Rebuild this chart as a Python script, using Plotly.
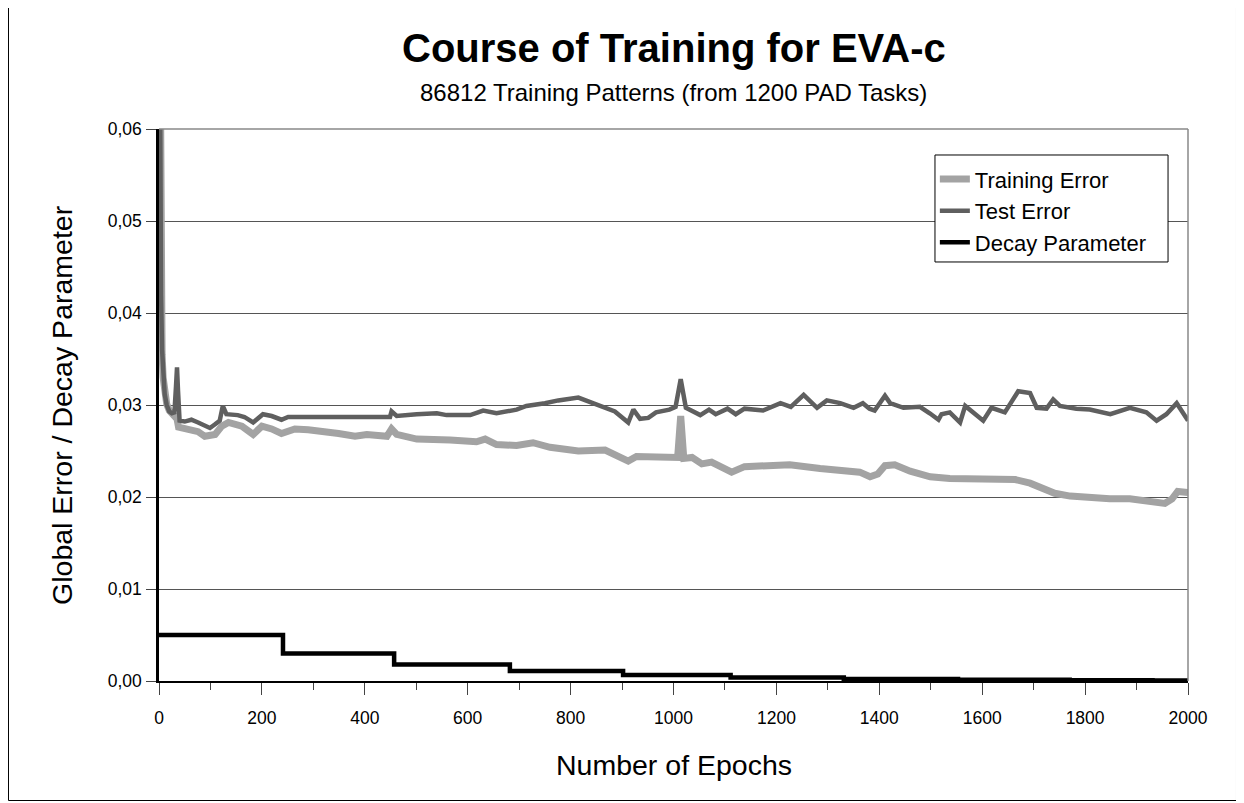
import plotly.graph_objects as go

# ---------------- data ----------------
train_epochs = [0, 2, 4, 6, 8, 11, 15, 20, 25, 30, 35, 38, 57, 76, 89, 109, 122, 135, 161, 183,
                200, 219, 238, 264, 290, 316, 349, 381, 404, 443, 452, 462, 501, 566, 617, 634,
                656, 695, 727, 760, 782, 815, 867, 893, 912, 928, 966, 997, 1008, 1014, 1020,
                1036, 1055, 1074, 1094, 1113, 1138, 1168, 1226, 1285, 1324, 1362, 1382, 1397,
                1411, 1430, 1460, 1499, 1537, 1586, 1635, 1664, 1693, 1712, 1741, 1771, 1810,
                1848, 1887, 1926, 1955, 1969, 1980, 2000]
train_error = [0.090, 0.056, 0.041, 0.0355, 0.0330, 0.0312, 0.0301, 0.0294, 0.0290, 0.0288,
               0.0285, 0.0276, 0.0273, 0.0271, 0.0266, 0.0268, 0.0277, 0.0281, 0.0277, 0.0268,
               0.0277, 0.0274, 0.0269, 0.0274, 0.0273, 0.0272, 0.0269, 0.0266, 0.0268, 0.0266,
               0.0274, 0.0268, 0.0263, 0.0262, 0.0260, 0.0263, 0.0257, 0.0256, 0.0259, 0.0254,
               0.0253, 0.0250, 0.0251, 0.0245, 0.0239, 0.0244, 0.0243, 0.0242, 0.0243, 0.0288,
               0.0242, 0.0243, 0.0236, 0.0238, 0.0233, 0.0227, 0.0233, 0.0234, 0.0235, 0.0231,
               0.0229, 0.0227, 0.0222, 0.0225, 0.0234, 0.0235, 0.0228, 0.0222, 0.0220, 0.0219,
               0.0218, 0.0219, 0.0215, 0.0210, 0.0204, 0.0201, 0.0199, 0.0198, 0.0198, 0.0196,
               0.0193, 0.0198, 0.0206, 0.0205]

test_epochs = [0, 2, 4, 6, 8, 11, 15, 20, 25, 30, 33, 35, 37, 40, 50, 63, 76, 89, 99, 109, 118,
               124, 131, 153, 166, 183, 193, 202, 219, 238, 251, 283, 316, 349, 381, 449, 452,
               462, 501, 540, 559, 605, 630, 656, 695, 714, 750, 776, 815, 834, 867, 886, 912,
               922, 935, 951, 966, 992, 1004, 1014, 1024, 1052, 1069, 1082, 1105, 1121, 1138,
               1174, 1208, 1228, 1253, 1279, 1298, 1324, 1350, 1368, 1381, 1391, 1411, 1421,
               1447, 1479, 1498, 1515, 1521, 1537, 1557, 1567, 1602, 1618, 1644, 1670, 1693,
               1706, 1725, 1738, 1751, 1783, 1809, 1849, 1887, 1919, 1939, 1958, 1978, 2000]
test_error = [0.090, 0.058, 0.042, 0.0360, 0.0332, 0.0312, 0.0300, 0.0293, 0.0291, 0.0292,
              0.0320, 0.0341, 0.0315, 0.0283, 0.0282, 0.0284, 0.0281, 0.0278, 0.0275, 0.0279,
              0.0283, 0.0299, 0.0290, 0.0289, 0.0287, 0.0281, 0.0285, 0.0290, 0.0288, 0.0284,
              0.0287, 0.0287, 0.0286, 0.0287, 0.0287, 0.0287, 0.0293, 0.0288, 0.0290, 0.0291,
              0.0289, 0.0289, 0.0294, 0.0291, 0.0295, 0.0299, 0.0302, 0.0305, 0.0308, 0.0304,
              0.0298, 0.0293, 0.0281, 0.0295, 0.0285, 0.0286, 0.0292, 0.0295, 0.0298, 0.0328,
              0.0297, 0.0289, 0.0295, 0.0290, 0.0296, 0.0290, 0.0296, 0.0294, 0.0302, 0.0298,
              0.0311, 0.0297, 0.0305, 0.0302, 0.0297, 0.0302, 0.0296, 0.0294, 0.0310, 0.0302,
              0.0297, 0.0298, 0.0291, 0.0284, 0.0290, 0.0292, 0.0281, 0.0299, 0.0283, 0.0297,
              0.0292, 0.0315, 0.0313, 0.0297, 0.0296, 0.0306, 0.0299, 0.0296, 0.0295, 0.0290,
              0.0297, 0.0292, 0.0283, 0.0290, 0.0302, 0.0283]

decay_epochs = [0, 241, 457, 682, 902, 1111, 1331, 1553, 1770, 1931, 2000]
decay_values = [0.005, 0.003, 0.0018, 0.00108, 0.00065, 0.00039, 0.00023, 0.00014, 0.00008,
                0.00005, 0.00005]

series_names = ["Training Error", "Test Error", "Decay Parameter"]
x_tick_values = [0, 200, 400, 600, 800, 1000, 1200, 1400, 1600, 1800, 2000]
y_tick_values = [0.00, 0.01, 0.02, 0.03, 0.04, 0.05, 0.06]

title_text = "<b>Course of Training for EVA-c</b>"
subtitle_text = "86812 Training Patterns (from 1200 PAD Tasks)"
x_title = "Number of Epochs"
y_title = "Global Error / Decay Parameter"

FONT = "Liberation Sans, Arial, sans-serif"

fig = go.Figure()
fig.add_trace(go.Scatter(x=train_epochs, y=train_error, mode="lines", name=series_names[0],
                         line=dict(color="#a3a3a3", width=7), cliponaxis=True))
fig.add_trace(go.Scatter(x=test_epochs, y=test_error, mode="lines", name=series_names[1],
                         line=dict(color="#5f5f5f", width=4.5), cliponaxis=True))
fig.add_trace(go.Scatter(x=decay_epochs, y=decay_values, mode="lines", name=series_names[2],
                         line=dict(color="#000000", width=4.5, shape="hv"), cliponaxis=False))

fig.update_layout(
    width=1244, height=803,
    margin=dict(l=151, r=64, t=121, b=130),
    paper_bgcolor="white", plot_bgcolor="white",
    separators=",.",
    font=dict(family=FONT, color="black", size=17),
    showlegend=True,
    legend=dict(x=0.754, y=0.947, xanchor="left", yanchor="top",
                bgcolor="rgba(0,0,0,0)", borderwidth=0,
                font=dict(size=22, family=FONT), tracegroupgap=0,
                itemwidth=30),
    xaxis=dict(range=[0, 2000], tickvals=x_tick_values, tickformat="d",
               showgrid=False, zeroline=False,
               showline=True, linecolor="black", linewidth=2,
               ticks="outside", ticklen=12, tickcolor="#444444", tickwidth=1,
               ticklabelstandoff=8,
               minor=dict(dtick=100, tick0=0, ticks="outside", ticklen=7,
                          tickcolor="#444444", tickwidth=1, showgrid=False),
               tickfont=dict(size=17.5, family=FONT, color="black")),
    yaxis=dict(range=[0, 0.06], tickvals=y_tick_values, tickformat=".2f",
               showgrid=True, gridcolor="#555555", gridwidth=1, zeroline=False,
               showline=True, linecolor="black", linewidth=2.5,
               ticks="outside", ticklen=10, tickcolor="#444444", tickwidth=1,
               ticklabelstandoff=1,
               tickfont=dict(size=17.5, family=FONT, color="black")),
    shapes=[
        dict(type="line", xref="paper", yref="paper", x0=1, x1=1, y0=0, y1=1,
             line=dict(color="#888888", width=1.5)),
        dict(type="line", xref="paper", yref="paper", x0=0, x1=1, y0=1, y1=1,
             line=dict(color="#888888", width=1.5)),
        # legend box
        dict(type="rect", xref="paper", yref="paper",
             x0=0.7541, x1=0.9806, y0=0.7591, y1=0.9529, layer="above",
             line=dict(color="black", width=1), fillcolor="white"),
        # outer frame
        dict(type="rect", xref="paper", yref="paper",
             x0=-0.14626, x1=1.047133, y0=-0.21649, y1=1.22736,
             line=dict(color="black", width=1), fillcolor="rgba(0,0,0,0)", layer="below"),
    ],
    annotations=[
        dict(text=title_text, xref="paper", yref="paper", x=0.5, y=1.1467,
             xanchor="center", yanchor="middle", showarrow=False,
             font=dict(size=40, family=FONT, color="black")),
        dict(text=subtitle_text, xref="paper", yref="paper", x=0.5, y=1.067,
             xanchor="center", yanchor="middle", showarrow=False,
             font=dict(size=24, family=FONT, color="black")),
        dict(text=x_title, xref="paper", yref="paper", x=0.5, y=-0.152,
             xanchor="center", yanchor="middle", showarrow=False,
             font=dict(size=28.5, family=FONT, color="black")),
        dict(text=y_title, xref="paper", yref="paper", x=-0.0943, y=0.5,
             xanchor="center", yanchor="middle", showarrow=False, textangle=-90,
             font=dict(size=28.5, family=FONT, color="black")),
    ],
)

fig.write_html("out.html")
